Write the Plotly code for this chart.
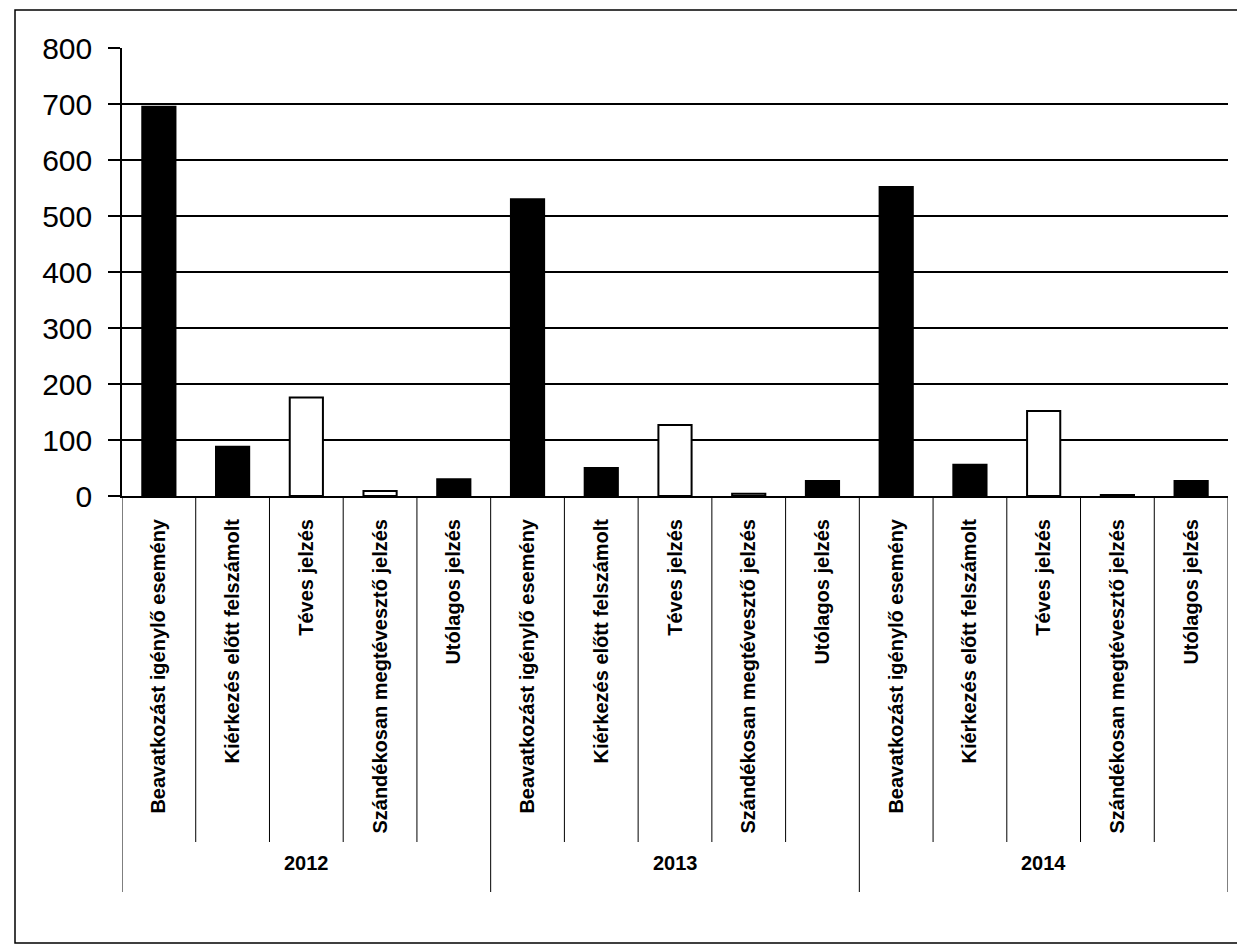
import plotly.graph_objects as go

years = ["2012", "2013", "2014"]
categories = [
    "Beavatkozást igénylő esemény",
    "Kiérkezés előtt felszámolt",
    "Téves jelzés",
    "Szándékosan megtévesztő jelzés",
    "Utólagos jelzés",
]
values_2012 = [695, 88, 176, 9, 30]
values_2013 = [530, 50, 127, 4, 27]
values_2014 = [552, 56, 152, 2, 27]
y_ticks = [0, 100, 200, 300, 400, 500, 600, 700, 800]

fills_per_cat = ["black", "black", "white", "white", "black"]

all_values = values_2012 + values_2013 + values_2014
n_cat = len(categories)
xs = list(range(len(years) * n_cat))
labels = categories * len(years)
fills = fills_per_cat * len(years)

fig = go.Figure()
fig.add_trace(go.Bar(
    x=xs, y=all_values, width=0.45,
    marker=dict(color=fills, line=dict(color="black", width=2)),
    showlegend=False, hoverinfo="y",
))

# screen geometry (page has an 8px body margin)
OFF = 8
SL, SR, ST, SB = 122, 1228, 48, 496   # plot area on screen
W, H = 1245, 951
pw, ph = SR - SL, SB - ST


def px(p):
    return (p - SL) / pw


def py(q):
    return (SB - q) / ph


shapes = []
for i in range(len(xs) + 1):
    is_year = (i % n_cat == 0)
    shapes.append(dict(
        type="line", xref="x", yref="paper",
        x0=i - 0.5, x1=i - 0.5, y0=0, y1=py(892 if is_year else 842),
        line=dict(color="black", width=1),
    ))
shapes.append(dict(type="rect", xref="paper", yref="paper",
                   x0=px(15), x1=px(1240), y0=py(943), y1=py(10),
                   line=dict(color="black", width=1.5), fillcolor="rgba(0,0,0,0)",
                   layer="below"))

annotations = []
for j, yr in enumerate(years):
    annotations.append(dict(
        x=j * n_cat + (n_cat - 1) / 2, xref="x", y=py(876), yref="paper",
        text="<b>" + yr + "</b>", showarrow=False,
        font=dict(family="Liberation Sans, Arial", size=20, color="black"),
    ))

fig.update_layout(
    width=W, height=H,
    margin=dict(l=SL - OFF, r=W - (SR - OFF), t=ST - OFF, b=H - (SB - OFF), pad=0),
    paper_bgcolor="white", plot_bgcolor="white",
    shapes=shapes, annotations=annotations,
    xaxis=dict(
        range=[-0.5, len(xs) - 0.5],
        tickmode="array", tickvals=xs,
        ticktext=["<b>" + t + "</b>" for t in labels],
        tickangle=-90,
        tickfont=dict(family="Liberation Sans, Arial", size=20, color="black"),
        ticks="", showgrid=False, zeroline=False,
        showline=True, linecolor="black", linewidth=2,
        ticklabelstandoff=13,
    ),
    yaxis=dict(
        range=[0, 800], tickmode="array", tickvals=y_ticks,
        tickfont=dict(family="Liberation Sans, Arial", size=30, color="black"),
        ticks="outside", ticklen=12, tickcolor="black", tickwidth=1.5,
        showgrid=True, gridcolor="black", gridwidth=1.5,
        showline=True, linecolor="black", linewidth=1.5,
        zeroline=False,
        ticklabelstandoff=10,
    ),
)

fig.write_html("out.html")
